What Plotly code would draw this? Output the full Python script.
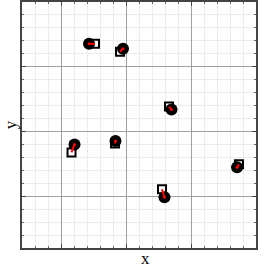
import plotly.graph_objects as go

# circles (e.g. estimated positions)
circle_x = [1.431, 1.954, 2.700, 1.208, 1.838, 2.592, 3.708]
circle_y = [3.354, 3.277, 2.338, 1.800, 1.854, 0.985, 1.446]
# squares (e.g. reference positions)
square_x = [1.523, 1.908, 2.662, 1.162, 1.831, 2.554, 3.738]
square_y = [3.354, 3.231, 2.385, 1.677, 1.815, 1.108, 1.492]

x_title = "x"
y_title = "y"

fig = go.Figure()

fig.add_trace(go.Scatter(
    x=square_x, y=square_y, mode="markers",
    marker=dict(symbol="square", size=8, color="white",
                line=dict(color="black", width=2)),
    showlegend=False))

fig.add_trace(go.Scatter(
    x=circle_x, y=circle_y, mode="markers",
    marker=dict(symbol="circle", size=12, color="black",
                line=dict(color="black", width=0)),
    showlegend=False))

seg_x, seg_y = [], []
for sx, sy, cx, cy in zip(square_x, square_y, circle_x, circle_y):
    seg_x += [sx, cx, None]
    seg_y += [sy, cy, None]
fig.add_trace(go.Scatter(
    x=seg_x, y=seg_y, mode="lines",
    line=dict(color="red", width=2),
    showlegend=False))
fig.add_trace(go.Scatter(
    x=circle_x, y=circle_y, mode="markers",
    marker=dict(symbol="circle", size=3, color="red"),
    showlegend=False))

axis_common = dict(
    showticklabels=False,
    dtick=1,
    showgrid=True, gridcolor="#a0a0a0", gridwidth=1,
    ticks="inside", ticklen=4, tickcolor="#444444", tickwidth=1,
    showline=True, linecolor="#444444", linewidth=2,
    mirror="allticks",
    zeroline=False,
    automargin=False,
    minor=dict(dtick=0.2, showgrid=True, gridcolor="#ececec", gridwidth=1,
               ticks="inside", ticklen=2, tickcolor="#666666"),
)

fig.update_xaxes(range=[0.4, 4.0], tick0=0, **axis_common)
fig.update_yaxes(range=[0.2, 4.0], tick0=0, **axis_common)

fig.add_annotation(text=x_title, xref="paper", yref="paper",
                   x=0.526, y=-0.044, xanchor="center", yanchor="middle",
                   showarrow=False, borderpad=0,
                   font=dict(family="Liberation Serif", size=17, color="black"))
fig.add_annotation(text=y_title, xref="paper", yref="paper",
                   x=-0.05, y=0.5, xanchor="center", yanchor="middle",
                   textangle=-90, showarrow=False, borderpad=0,
                   font=dict(family="Liberation Serif", size=17, color="black"))

fig.update_layout(
    width=272, height=268,
    margin=dict(l=22, r=16, t=2, b=20),
    plot_bgcolor="white", paper_bgcolor="white",
)

fig.write_html("out.html",
               config={"displayModeBar": False},
               post_script="document.body.style.margin='0px';document.body.style.overflow='hidden';")
